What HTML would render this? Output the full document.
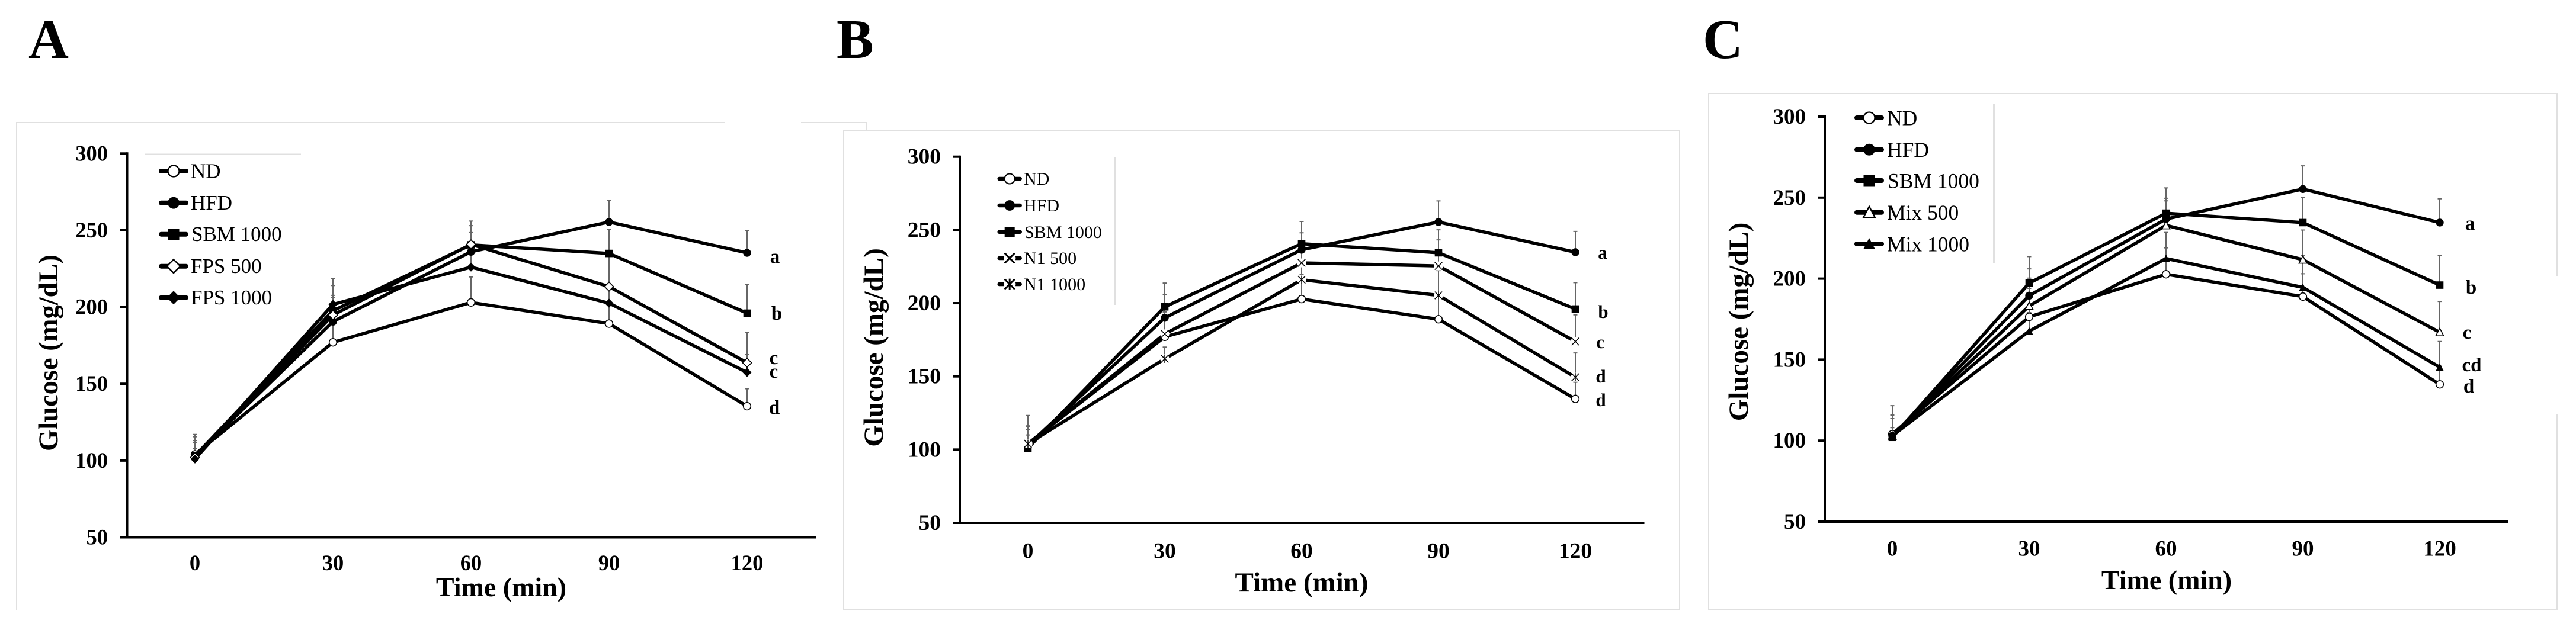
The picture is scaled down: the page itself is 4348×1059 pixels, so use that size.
<!DOCTYPE html>
<html lang="en">
<head>
<meta charset="utf-8">
<title>Glucose tolerance curves</title>
<style>
html,body{margin:0;padding:0;background:#fff;}
svg{display:block;}
text{font-family:"Liberation Serif",serif;fill:#000;}
.bold{font-weight:bold;}
.rule{fill:#e0e0e0;}
</style>
</head>
<body>
<svg id="figure" width="4348" height="1059" viewBox="0 0 4348 1059" xmlns="http://www.w3.org/2000/svg">
  <rect width="4348" height="1059" fill="#fff"/>

  <g id="panel-a">
    <g>
      <rect class="rule" x="27" y="206" width="1197" height="2"/>
      <rect class="rule" x="1352" y="206" width="110" height="2"/>
      <rect class="rule" x="27" y="206" width="2" height="824"/>
      <rect class="rule" x="1461" y="206" width="2" height="15"/>
    </g>
    <rect class="rule" x="245" y="259.5" width="263" height="2"/>
    <text class="bold" x="48" y="98" font-size="94">A</text>
    <text class="bold" x="846" y="1007" font-size="46" text-anchor="middle">Time (min)</text>
    <text class="bold" transform="translate(97,596) rotate(-90)" font-size="46.5" text-anchor="middle">Glucose (mg/dL)</text>
    <g font-size="35">
      <text x="322" y="300.5">ND</text>
      <text x="322" y="354">HFD</text>
      <text x="323" y="407">SBM 1000</text>
      <text x="322" y="461">FPS 500</text>
      <text x="322" y="514">FPS 1000</text>
    </g>
    <g class="bold" font-size="33" text-anchor="middle" font-weight="bold">
      <text x="1308" y="444">a</text>
      <text x="1311" y="540">b</text>
      <text x="1306" y="615">c</text>
      <text x="1306" y="638">c</text>
      <text x="1307" y="699">d</text>
    </g>
  </g>

  <g id="panel-b">
    <rect x="1423" y="220" width="1412" height="810" fill="#fff"/>
    <g>
      <rect class="rule" x="1423" y="220" width="1412" height="2"/>
      <rect class="rule" x="1423" y="220" width="2" height="810"/>
      <rect class="rule" x="1423" y="1028" width="1412" height="2"/>
      <rect class="rule" x="2834" y="220" width="2" height="810"/>
    </g>
    <rect class="rule" x="1880" y="265" width="3" height="250"/>
    <text class="bold" x="1412" y="98" font-size="94">B</text>
    <text class="bold" x="2197" y="999" font-size="47" text-anchor="middle">Time (min)</text>
    <text class="bold" transform="translate(1490,587) rotate(-90)" font-size="47" text-anchor="middle">Glucose (mg/dL)</text>
    <g font-size="30">
      <text x="1728" y="312">ND</text>
      <text x="1728" y="357">HFD</text>
      <text x="1729" y="402">SBM 1000</text>
      <text x="1728" y="446">N1 500</text>
      <text x="1728" y="490">N1 1000</text>
    </g>
    <g font-size="31" text-anchor="middle" font-weight="bold">
      <text x="2705" y="437">a</text>
      <text x="2706" y="537">b</text>
      <text x="2701" y="588">c</text>
      <text x="2702" y="646">d</text>
      <text x="2702" y="686">d</text>
    </g>
  </g>

  <g id="panel-c">
    <g>
      <rect class="rule" x="2883" y="157" width="1434" height="2"/>
      <rect class="rule" x="2883" y="157" width="2" height="873"/>
      <rect class="rule" x="2883" y="1028" width="1434" height="2"/>
      <rect class="rule" x="4315" y="157" width="2" height="310"/>
      <rect class="rule" x="4315" y="699" width="2" height="331"/>
    </g>
    <rect class="rule" x="3364" y="175" width="3" height="270"/>
    <text class="bold" x="2874" y="98" font-size="94">C</text>
    <text class="bold" x="3657" y="995" font-size="46" text-anchor="middle">Time (min)</text>
    <text class="bold" transform="translate(2950,543.5) rotate(-90)" font-size="47" text-anchor="middle">Glucose (mg/dL)</text>
    <g font-size="35.5">
      <text x="3185" y="211.5">ND</text>
      <text x="3185" y="265">HFD</text>
      <text x="3186" y="317.5">SBM 1000</text>
      <text x="3185" y="371">Mix 500</text>
      <text x="3185" y="424.5">Mix 1000</text>
    </g>
    <g font-size="33" text-anchor="middle" font-weight="bold">
      <text x="4169" y="388">a</text>
      <text x="4171" y="496">b</text>
      <text x="4164" y="572">c</text>
      <text x="4172" y="627">cd</text>
      <text x="4167" y="663">d</text>
    </g>
  </g>
</svg>

<script>
// Shared axis data
const categories = [0, 30, 60, 90, 120];
const yTickValues = [50, 100, 150, 200, 250, 300];

// Panel A values (mean) and error-bar tops (mg/dL)
const aNd = [104, 177, 203, 189.2, 135.4];
const aNdTop = [115.5, 193, 219.6, 202.5, 146.8];
const aHfd = [103, 190.5, 236, 255.4, 235.3];
const aHfdTop = [111.6, 206, 248.5, 269.5, 250];
const aSbm = [103, 197.6, 240.5, 234.9, 196];
const aSbmTop = [117, 214, 256, 250.6, 214.5];
const aFps500 = [102, 194.8, 240.8, 213.3, 163.7];
const aFps500Top = [113, 218.7, 253, 234, 183.6];
const aFps1000 = [101, 201.7, 226, 202.5, 157.4];
const aFps1000Top = [108, 207.6, 240, 213, 169];

// Panel B values and error-bar tops
const bNd = [104, 177, 202.8, 189, 134.6];
const bNdTop = [115.9, 194, 219.5, 203, 146];
const bHfd = [103, 190, 236.5, 255.4, 234.8];
const bHfdTop = [113.6, 205.7, 248, 269.8, 249];
const bSbm = [101, 197.5, 240.6, 234.4, 196];
const bSbmTop = [116.2, 213.7, 255.8, 250.1, 214];
const bN1500 = [104, 179, 227.5, 225.4, 173.8];
const bN1500Top = [123.3, 190, 236, 243.2, 192];
const bN11000 = [104, 162, 216, 205.3, 149.4];
const bN11000Top = [110, 170, 228, 222.2, 166];

// Panel C values and error-bar tops
const cNd = [104, 176.4, 202.7, 188.9, 134.7];
const cNdTop = [115.8, 194, 219, 203, 146];
const cHfd = [103, 189.5, 236.8, 255.3, 234.6];
const cHfdTop = [113.6, 206, 248, 269.6, 249.3];
const cSbm = [102, 197.2, 240.4, 234.6, 196];
const cSbmTop = [116, 213.6, 256, 250.2, 214.2];
const cMix500 = [103, 183.1, 232.9, 211.7, 166.9];
const cMix500Top = [121.6, 200.3, 249.6, 230, 185.9];
const cMix1000 = [103, 167.6, 212.4, 194.6, 145.3];
const cMix1000Top = [108, 179, 228.5, 214.2, 161.2];

const NS = 'http://www.w3.org/2000/svg';

function make(tag, attrs, parent) {
  const el = document.createElementNS(NS, tag);
  for (const k in attrs) el.setAttribute(k, attrs[k]);
  parent.appendChild(el);
  return el;
}

function drawMarker(parent, kind, cx, cy, s) {
  const stroke = {stroke: '#000', 'stroke-width': 1.6 * s / 6.5 < 1.6 ? 1.6 : 1.6 * s / 6.5};
  const white = Object.assign({fill: '#fff'}, stroke);
  const tri = (x, y) => `${x},${y - s * 1.05} ${x + s * 1.05},${y + s * 0.95} ${x - s * 1.05},${y + s * 0.95}`;
  const dia = (x, y) => `${x},${y - s * 1.2} ${x + s * 1.2},${y} ${x},${y + s * 1.2} ${x - s * 1.2},${y}`;
  if (kind === 'open-circle') make('circle', Object.assign({cx, cy, r: s}, white), parent);
  if (kind === 'circle') make('circle', {cx, cy, r: s + 0.4, fill: '#000'}, parent);
  if (kind === 'square') make('rect', {x: cx - s, y: cy - s, width: 2 * s, height: 2 * s, fill: '#000'}, parent);
  if (kind === 'open-diamond') make('polygon', Object.assign({points: dia(cx, cy)}, white), parent);
  if (kind === 'diamond') make('polygon', {points: dia(cx, cy), fill: '#000'}, parent);
  if (kind === 'open-triangle') make('polygon', Object.assign({points: tri(cx, cy)}, white), parent);
  if (kind === 'triangle') make('polygon', {points: tri(cx, cy), fill: '#000'}, parent);
  if (kind === 'cross' || kind === 'star') {
    make('circle', {cx, cy, r: s * 1.2, fill: '#fff'}, parent);
    const w = s > 8 ? 3 : 1.5;
    const k = s;
    make('line', {x1: cx - k, y1: cy - k, x2: cx + k, y2: cy + k, stroke: '#000', 'stroke-width': w}, parent);
    make('line', {x1: cx - k, y1: cy + k, x2: cx + k, y2: cy - k, stroke: '#000', 'stroke-width': w}, parent);
    if (kind === 'star') {
      make('line', {x1: cx, y1: cy - k * 1.1, x2: cx, y2: cy + k * 1.1, stroke: '#000', 'stroke-width': w}, parent);
    }
  }
}

function drawPanel(p) {
  const root = document.getElementById(p.id);
  const bandW = (p.bandRight - p.bandLeft) / categories.length;
  const xScale = i => p.bandLeft + (i + 0.5) * bandW;
  const yScale = v => p.y50 + (50 - v) * (p.y50 - p.y300) / 250;

  // Axes
  const yAxis = make('line', {x1: p.axisX, y1: p.y300 - 2, x2: p.axisX, y2: p.y50 + 2, stroke: '#000', 'stroke-width': 4}, root);
  
  
  const xAxis = make('line', {x1: p.axisX - 12, y1: p.y50, x2: p.axisEnd, y2: p.y50, stroke: '#000', 'stroke-width': 4}, root);
  
  

  yTickValues.forEach(v => {
    const tick = make('line', {x1: p.axisX - 12, y1: yScale(v), x2: p.axisX, y2: yScale(v), stroke: '#000', 'stroke-width': 4}, root);
    
    
    const lab = make('text', {x: p.yLabelRight, y: yScale(v) + 12, 'font-size': p.tickFont, 'font-weight': 'bold', 'text-anchor': 'end'}, root);
    lab.textContent = String(v);
    
    
  });
  categories.forEach((c, i) => {
    const lab = make('text', {x: xScale(i), y: p.xLabelBase, 'font-size': p.tickFont, 'font-weight': 'bold', 'text-anchor': 'middle'}, root);
    lab.textContent = String(c);
    
    
  });

  // Error bars behind every line
  p.series.forEach(s => {
    s.values.forEach((v, i) => {
      const x = xScale(i);
      const bar = make('path', {
        d: `M${x} ${yScale(v)}V${yScale(s.tops[i])}M${x - 3.5} ${yScale(s.tops[i])}H${x + 3.5}`,
        stroke: '#666', 'stroke-width': 2, fill: 'none'
      }, root);
      
      
    });
  });

  // Lines and markers
  p.series.forEach(s => {
    const line = make('polyline', {
      points: s.values.map((v, i) => xScale(i) + ',' + yScale(v)).join(' '),
      fill: 'none', stroke: '#000', 'stroke-width': 5.5, 'stroke-linejoin': 'round'
    }, root);
    
    
  });
  p.series.forEach(s => {
    s.values.forEach((v, i) => {
      const g = make('g', {}, root);
      
      
      drawMarker(g, s.marker, xScale(i), yScale(v), 6.3);
    });
  });

  // Legend swatches
  p.series.forEach((s, i) => {
    const y = p.legendYs[i];
    const g = make('g', {}, root);
    
    
    make('line', {x1: p.legendLeft + 4, y1: y, x2: p.legendRight - 4, y2: y, stroke: '#000', 'stroke-width': p.legendLine, 'stroke-linecap': 'round'}, g);
    drawMarker(g, s.marker, (p.legendLeft + p.legendRight) / 2, y, p.legendMarker);
  });
}

drawPanel({
  id: 'panel-a', bandLeft: 212.5, bandRight: 1377.5, axisX: 214.5, axisEnd: 1378,
  y300: 259.3, y50: 907.5, yLabelRight: 182, xLabelBase: 963, tickFont: 36.5,
  legendLeft: 268, legendRight: 318, legendYs: [289, 342.7, 395.7, 449.7, 502.7], legendLine: 8, legendMarker: 9.5,
  series: [
    {key: 'nd', marker: 'open-circle', values: aNd, tops: aNdTop},
    {key: 'hfd', marker: 'circle', values: aHfd, tops: aHfdTop},
    {key: 'sbm-1000', marker: 'square', values: aSbm, tops: aSbmTop},
    {key: 'fps-500', marker: 'open-diamond', values: aFps500, tops: aFps500Top},
    {key: 'fps-1000', marker: 'diamond', values: aFps1000, tops: aFps1000Top}
  ]
});

drawPanel({
  id: 'panel-b', bandLeft: 1619.5, bandRight: 2774.5, axisX: 1620, axisEnd: 2775.5,
  y300: 264.7, y50: 883, yLabelRight: 1588, xLabelBase: 942.5, tickFont: 37.5,
  legendLeft: 1682.7, legendRight: 1725.7, legendYs: [302, 347, 391.7, 436, 480], legendLine: 6.5, legendMarker: 8.5,
  series: [
    {key: 'nd', marker: 'open-circle', values: bNd, tops: bNdTop},
    {key: 'hfd', marker: 'circle', values: bHfd, tops: bHfdTop},
    {key: 'sbm-1000', marker: 'square', values: bSbm, tops: bSbmTop},
    {key: 'n1-500', marker: 'cross', values: bN1500, tops: bN1500Top},
    {key: 'n1-1000', marker: 'star', values: bN11000, tops: bN11000Top}
  ]
});

drawPanel({
  id: 'panel-c', bandLeft: 3078.5, bandRight: 4233.5, axisX: 3080, axisEnd: 4233,
  y300: 197, y50: 881, yLabelRight: 3048, xLabelBase: 938.5, tickFont: 37,
  legendLeft: 3130, legendRight: 3180, legendYs: [199, 252.7, 305, 358.7, 412], legendLine: 8, legendMarker: 9.5,
  series: [
    {key: 'nd', marker: 'open-circle', values: cNd, tops: cNdTop},
    {key: 'hfd', marker: 'circle', values: cHfd, tops: cHfdTop},
    {key: 'sbm-1000', marker: 'square', values: cSbm, tops: cSbmTop},
    {key: 'mix-500', marker: 'open-triangle', values: cMix500, tops: cMix500Top},
    {key: 'mix-1000', marker: 'triangle', values: cMix1000, tops: cMix1000Top}
  ]
});
</script>
</body>
</html>
